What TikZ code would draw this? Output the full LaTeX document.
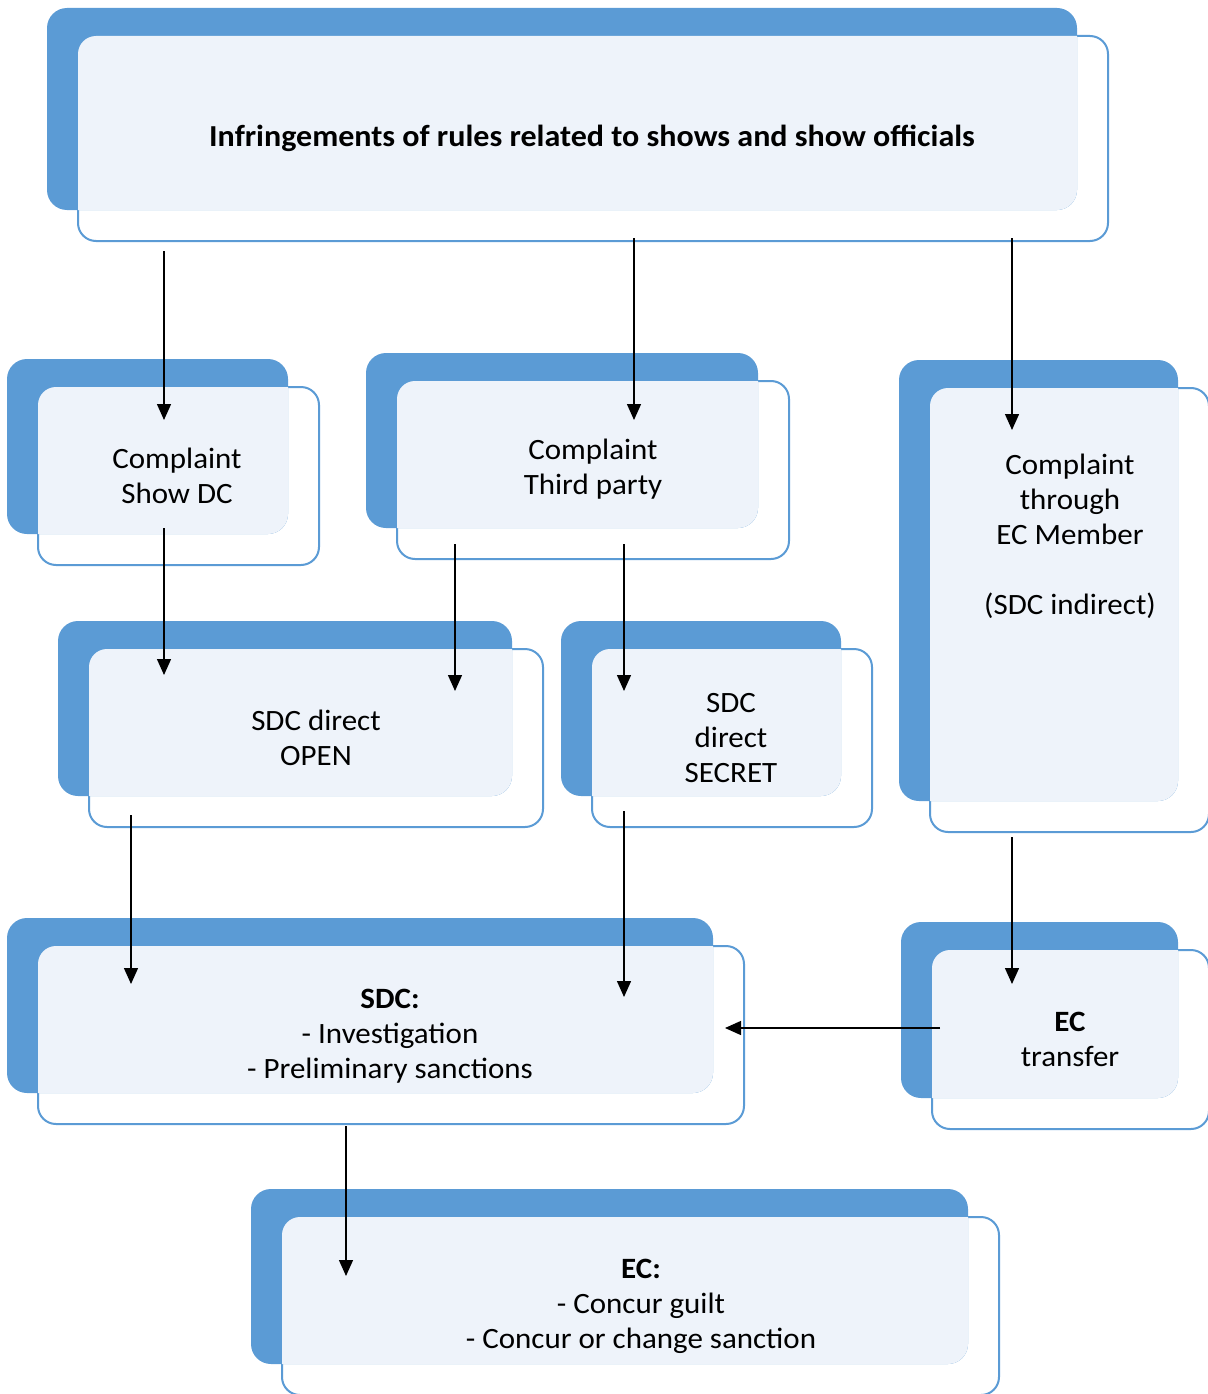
\documentclass[tikz,border=0pt]{standalone}
\usepackage{fontspec}
\setmainfont{Carlito}[FakeStretch=1.05]
\usetikzlibrary{arrows.meta}
\definecolor{bblue}{HTML}{5B9BD5}
\definecolor{blight}{HTML}{EEF3FA}
\newcommand\blk[4]{%
  \draw[bblue,line width=2pt,fill=white,rounded corners=18pt] ({#1+31},{#2+28}) rectangle ({#3+31},{#4+31});
  \fill[bblue,rounded corners=20pt] (#1,#2) rectangle (#3,#4);
  \begin{scope}
    \clip[rounded corners=20pt] (#1,#2) rectangle (#3,#4);
    \fill[blight,rounded corners=18pt] ({#1+31},{#2+28}) rectangle ({#3+31},{#4+31});
  \end{scope}}
\begin{document}
\begin{tikzpicture}[x=1pt,y=-1pt,
  lbl/.style={align=center,font=\fontsize{29.5}{35}\selectfont,inner sep=0pt},
  arr/.style={line width=1.4pt,-{Triangle[width=14pt,length=16pt]}}]
\useasboundingbox (0,0) rectangle (1207,1394);
\blk{47}{8}{1077}{210}
\blk{7}{359}{288}{534}
\blk{366}{353}{758}{528}
\blk{899}{360}{1178}{801}
\blk{58}{621}{512}{796}
\blk{561}{621}{841}{796}
\blk{7}{918}{713}{1093}
\blk{901}{922}{1178}{1098}
\blk{251}{1189}{968}{1364}
\node[lbl,font=\fontsize{30.5}{35}\selectfont\bfseries] (title) at (592,138) {Infringements of rules related to shows and show officials};
\node[lbl] (showdc) at (177,476) {Complaint\\Show DC};
\node[lbl] (third) at (593,469) {Complaint\\Third party};
\node[lbl] (ecm) at (1070,536) {Complaint\\through\\EC Member\\\mbox{}\\(SDC indirect)};
\node[lbl] (open) at (316,738) {SDC direct\\OPEN};
\node[lbl] (secret) at (731,738) {SDC\\direct\\SECRET};
\node[lbl] (sdc) at (390,1036) {\textbf{SDC:}\\- Investigation\\- Preliminary sanctions};
\node[lbl] (ectr) at (1070,1039) {\textbf{EC}\\transfer};
\node[lbl] (ec) at (641,1306) {\textbf{EC:}\\- Concur guilt\\- Concur or change sanction};
\coordinate (a1s) at (164,251); \coordinate (a1e) at (164,420);
\coordinate (a2s) at (634,238); \coordinate (a2e) at (634,420);
\coordinate (a3s) at (1012,238); \coordinate (a3e) at (1012,430);
\coordinate (a4s) at (164,528); \coordinate (a4e) at (164,675);
\coordinate (a5s) at (455,544); \coordinate (a5e) at (455,691);
\coordinate (a6s) at (624,544); \coordinate (a6e) at (624,691);
\coordinate (a7s) at (131,815); \coordinate (a7e) at (131,984);
\coordinate (a8s) at (624,811); \coordinate (a8e) at (624,997);
\coordinate (a9s) at (1012,837); \coordinate (a9e) at (1012,984);
\coordinate (a10s) at (940,1028); \coordinate (a10e) at (725,1028);
\coordinate (a11s) at (346,1126); \coordinate (a11e) at (346,1276);
\foreach \i in {1,...,11} {\draw[arr] (a\i s) -- (a\i e);}
\end{tikzpicture}
\end{document}
